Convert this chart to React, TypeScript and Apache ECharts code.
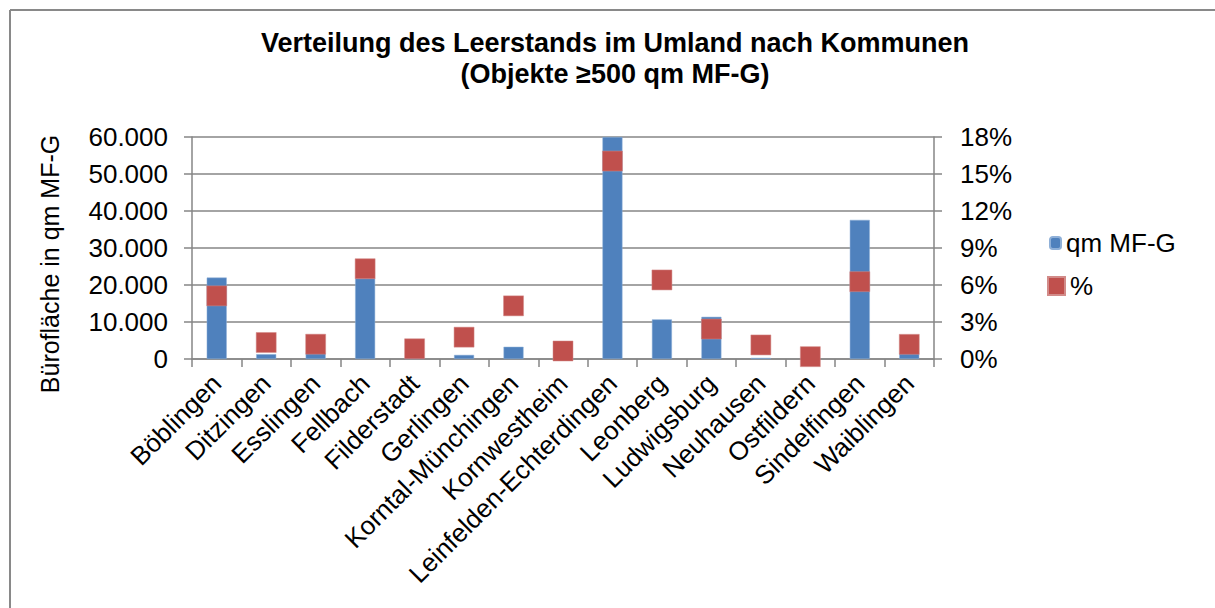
import React, { useEffect, useRef } from "react";
import * as echarts from "echarts";

const categories = [
  "Böblingen", "Ditzingen", "Esslingen", "Fellbach", "Filderstadt", "Gerlingen",
  "Korntal-Münchingen", "Kornwestheim", "Leinfelden-Echterdingen", "Leonberg",
  "Ludwigsburg", "Neuhausen", "Ostfildern", "Sindelfingen", "Waiblingen",
];
const qmValues = [22000, 1300, 1500, 21800, 300, 1100, 3300, 400, 60000, 10700, 11400, 300, 300, 37600, 1500];
const pctValues = [5.12, 1.34, 1.2, 7.32, 0.83, 1.77, 4.31, 0.65, 16.05, 6.41, 2.43, 1.14, 0.19, 6.27, 1.19];
const titleLines = ["Verteilung des Leerstands im Umland nach Kommunen", "(Objekte ≥500 qm MF-G)"];
const yAxisName = "Bürofläche in qm MF-G";
const seriesNames = ["qm MF-G", "%"];

const FONT = "'Liberation Sans', Arial, sans-serif";
const GRAY = "#868686";
const BLUE = "#4F81BD";
const RED = "#C0504D";

const fmtDe = (v: number) => String(v).replace(/\B(?=(\d{3})+(?!\d))/g, ".");

export default function App() {
  const ref = useRef<HTMLDivElement>(null);
  useEffect(() => {
    if (!ref.current) return;
    const chart = echarts.init(ref.current, null, { renderer: "svg" });
    chart.setOption({
      animation: false,
      backgroundColor: "#ffffff",
      textStyle: { fontFamily: FONT, color: "#000" },
      title: {
        text: titleLines.join("\n"),
        left: 615,
        textAlign: "center",
        top: 27,
        padding: 0,
        textStyle: { fontFamily: FONT, fontSize: 27, fontWeight: "bold", color: "#000", lineHeight: 31 },
      },
      legend: [
        {
          data: [seriesNames[0]],
          left: 1049,
          top: 230,
          padding: 0,
          itemWidth: 11,
          itemHeight: 12,
          textStyle: { fontFamily: FONT, fontSize: 26, color: "#000" },
          selectedMode: false,
        },
        {
          data: [seriesNames[1]],
          left: 1047,
          top: 273,
          padding: 0,
          itemWidth: 17,
          itemHeight: 18,
          textStyle: { fontFamily: FONT, fontSize: 26, color: "#000" },
          selectedMode: false,
        },
      ],
      grid: { left: 192, right: 281, top: 137, bottom: 249, containLabel: false },
      xAxis: {
        type: "category",
        data: categories,
        axisLine: { lineStyle: { color: GRAY, width: 1.5 } },
        axisTick: { show: true, length: 8, lineStyle: { color: GRAY, width: 1.5 } },
        axisLabel: {
          rotate: 45,
          interval: 0,
          margin: 20,
          fontFamily: FONT,
          fontSize: 26,
          color: "#000",
        },
      },
      yAxis: [
        {
          type: "value",
          min: 0,
          max: 60000,
          interval: 10000,
          axisLine: { show: true, lineStyle: { color: GRAY, width: 1.5 } },
          axisTick: { show: true, length: 8, lineStyle: { color: GRAY, width: 1.5 } },
          splitLine: { show: true, lineStyle: { color: GRAY, width: 1.5 } },
          axisLabel: { formatter: (v: number) => fmtDe(v), margin: 24, fontFamily: FONT, fontSize: 26, color: "#000" },
        },
        {
          type: "value",
          min: 0,
          max: 18,
          interval: 3,
          position: "right",
          axisLine: { show: true, lineStyle: { color: GRAY, width: 1.5 } },
          axisTick: { show: true, length: 8, lineStyle: { color: GRAY, width: 1.5 } },
          splitLine: { show: false },
          axisLabel: { formatter: (v: number) => v + "%", margin: 26, fontFamily: FONT, fontSize: 26, color: "#000" },
        },
      ],
      graphic: [
        {
          type: "text",
          x: 50,
          y: 264,
          rotation: Math.PI / 2,
          style: {
            text: yAxisName,
            fontFamily: FONT,
            fontSize: 25,
            fill: "#000",
            align: "center",
            verticalAlign: "middle",
          },
        },
        { type: "line", shape: { x1: 10, y1: 10, x2: 1215, y2: 10 }, style: { stroke: "#898989", lineWidth: 2 } },
        { type: "line", shape: { x1: 10, y1: 10, x2: 10, y2: 608 }, style: { stroke: "#898989", lineWidth: 2 } },
      ],
      series: [
        {
          name: seriesNames[0],
          type: "bar",
          data: qmValues,
          barWidth: 20,
          yAxisIndex: 0,
          itemStyle: { color: BLUE, borderColor: "#8fb0d8", borderWidth: 0.5 },
          z: 2,
        },
        {
          name: seriesNames[1],
          type: "scatter",
          data: pctValues,
          yAxisIndex: 1,
          symbol: "rect",
          symbolSize: 20,
          itemStyle: { color: RED, opacity: 1, borderColor: "#d28b89", borderWidth: 0.5 },
          z: 3,
        },
      ],
    });
    return () => chart.dispose();
  }, []);
  return (
    <div
      ref={ref}
      style={{ position: "fixed", left: 0, top: 0, width: 1215, height: 608, background: "#fff" }}
    />
  );
}
